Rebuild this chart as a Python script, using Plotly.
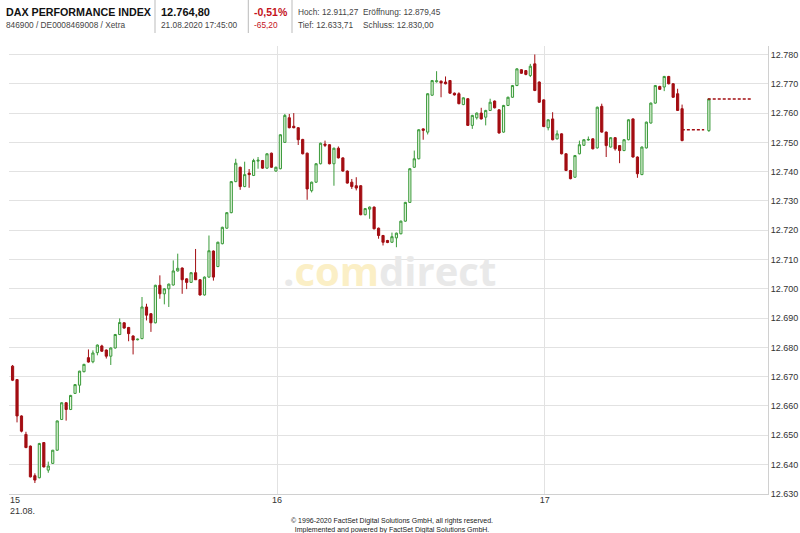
import plotly.graph_objects as go

# DAX intraday 21.08.2020, one-minute candles from 15:00 (x = minutes after 15:00)
minutes = list(range(151)) + [156]

opens = [12673.6, 12669.0, 12656.6, 12650.3, 12646.3, 12636.2, 12635.5, 12647.5, 12638.1, 12640.4,
         12644.9, 12655.4, 12661.1, 12658.8, 12664.3, 12667.1, 12671.7, 12676.5, 12675.1, 12678.2,
         12680.5, 12679.1, 12677.0, 12679.8, 12684.4, 12688.4, 12686.8, 12683.9, 12682.6, 12683.0,
         12693.8, 12691.5, 12688.4, 12701.2, 12698.3, 12700.0, 12701.3, 12706.1, 12707.1, 12703.4,
         12702.2, 12705.5, 12703.1, 12697.9, 12704.0, 12712.9, 12707.6, 12715.4, 12720.7, 12726.0,
         12736.6, 12741.5, 12734.9, 12739.5, 12738.7, 12743.6, 12743.8, 12741.2, 12746.3, 12740.2,
         12741.0, 12750.0, 12758.4, 12755.5, 12755.0, 12751.0, 12746.3, 12733.5, 12736.4, 12742.7,
         12749.4, 12749.2, 12742.7, 12748.0, 12744.7, 12740.2, 12736.4, 12735.2, 12735.2, 12725.3,
         12727.2, 12727.9, 12720.7, 12718.2, 12716.5, 12715.9, 12717.4, 12718.8, 12723.1, 12729.5,
         12741.5, 12744.4, 12754.6, 12753.5, 12766.1, 12770.7, 12770.9, 12770.6, 12771.1, 12766.8,
         12766.6, 12762.9, 12764.9, 12755.8, 12758.4, 12760.0, 12758.6, 12760.9, 12764.1, 12761.1,
         12753.5, 12762.6, 12765.4, 12769.4, 12774.8, 12774.5, 12772.8, 12776.8, 12770.6, 12764.5,
         12755.0, 12758.0, 12751.2, 12752.9, 12746.1, 12740.4, 12738.1, 12746.1, 12749.0, 12750.8,
         12751.2, 12748.1, 12762.3, 12753.5, 12748.4, 12751.6, 12748.9, 12747.2, 12750.9, 12758.0,
         12745.0, 12739.0, 12748.1, 12756.6, 12763.4, 12769.1, 12768.9, 12772.5, 12770.0, 12766.6,
         12761.5, 12754.0]

highs = [12674.0, 12669.2, 12656.8, 12651.2, 12646.5, 12637.0, 12647.4, 12647.7, 12641.0, 12645.0,
         12655.0, 12661.3, 12661.3, 12663.8, 12667.5, 12672.0, 12674.4, 12679.3, 12679.0, 12681.0,
         12680.9, 12679.3, 12680.0, 12684.6, 12689.9, 12688.6, 12687.0, 12684.1, 12683.0, 12697.2,
         12694.9, 12691.7, 12701.4, 12704.6, 12700.2, 12701.8, 12709.7, 12712.0, 12707.3, 12703.6,
         12705.7, 12713.6, 12703.3, 12704.2, 12718.2, 12713.1, 12716.1, 12721.2, 12726.2, 12736.8,
         12744.4, 12741.7, 12743.4, 12740.9, 12744.4, 12745.0, 12744.0, 12746.3, 12746.5, 12741.7,
         12752.8, 12759.7, 12759.7, 12760.0, 12755.2, 12751.2, 12746.5, 12736.6, 12742.9, 12749.9,
         12750.6, 12749.4, 12748.2, 12748.6, 12744.9, 12740.4, 12737.5, 12738.1, 12735.4, 12727.6,
         12728.1, 12728.1, 12720.9, 12718.4, 12716.7, 12719.2, 12719.2, 12723.3, 12729.7, 12741.2,
         12747.2, 12754.5, 12754.8, 12766.8, 12771.3, 12774.3, 12771.1, 12772.5, 12771.3, 12767.0,
         12767.1, 12765.4, 12765.1, 12759.4, 12760.2, 12761.8, 12761.1, 12764.9, 12764.3, 12761.3,
         12762.8, 12765.6, 12769.6, 12775.3, 12775.0, 12774.7, 12776.8, 12780.0, 12770.8, 12764.7,
         12757.9, 12760.3, 12754.1, 12753.1, 12746.3, 12740.6, 12745.7, 12750.6, 12751.1, 12752.0,
         12751.4, 12762.2, 12763.2, 12753.7, 12751.8, 12751.8, 12749.1, 12751.1, 12757.9, 12758.2,
         12745.2, 12748.6, 12757.1, 12763.6, 12769.6, 12769.3, 12772.7, 12772.7, 12770.2, 12768.3,
         12762.9, 12765.0]

lows = [12668.5, 12654.4, 12651.0, 12645.6, 12635.6, 12633.7, 12635.3, 12639.0, 12637.2, 12640.2,
        12644.7, 12655.2, 12655.0, 12658.6, 12664.1, 12664.5, 12671.5, 12674.8, 12674.6, 12677.3,
        12678.5, 12676.2, 12674.0, 12679.6, 12684.2, 12686.4, 12682.1, 12677.6, 12682.4, 12682.8,
        12689.2, 12685.3, 12688.2, 12696.6, 12694.7, 12693.8, 12701.1, 12705.9, 12698.3, 12699.9,
        12702.0, 12703.0, 12697.7, 12697.7, 12703.8, 12702.8, 12707.4, 12715.2, 12720.5, 12725.8,
        12736.4, 12733.8, 12734.7, 12734.5, 12738.5, 12741.0, 12741.0, 12741.0, 12741.3, 12740.0,
        12740.8, 12749.8, 12754.8, 12754.8, 12749.1, 12745.9, 12730.4, 12732.9, 12736.2, 12742.5,
        12748.4, 12742.5, 12735.2, 12744.5, 12740.0, 12735.9, 12734.1, 12733.6, 12725.1, 12725.1,
        12723.9, 12720.3, 12717.1, 12714.8, 12715.6, 12715.7, 12714.2, 12718.6, 12722.9, 12729.3,
        12741.3, 12744.2, 12750.9, 12752.7, 12765.9, 12770.4, 12765.4, 12769.8, 12766.6, 12766.0,
        12763.0, 12762.7, 12755.6, 12754.6, 12757.8, 12757.8, 12755.8, 12760.7, 12761.6, 12753.0,
        12753.3, 12762.4, 12765.2, 12769.2, 12773.4, 12772.9, 12772.3, 12767.5, 12763.5, 12755.2,
        12754.1, 12750.7, 12751.0, 12745.9, 12740.2, 12737.4, 12737.9, 12745.9, 12748.8, 12750.6,
        12747.6, 12747.9, 12753.3, 12745.0, 12748.2, 12747.2, 12742.9, 12747.0, 12750.7, 12744.8,
        12737.9, 12738.8, 12747.9, 12756.4, 12763.2, 12767.9, 12767.5, 12769.8, 12765.2, 12760.7,
        12750.4, 12753.6]

closes = [12668.8, 12656.6, 12651.4, 12645.8, 12635.8, 12634.7, 12647.2, 12639.2, 12639.5, 12644.9,
          12654.9, 12661.1, 12658.8, 12663.6, 12667.3, 12671.9, 12674.2, 12675.0, 12678.1, 12680.8,
          12678.7, 12677.0, 12679.8, 12684.4, 12688.5, 12686.6, 12684.7, 12682.5, 12682.8, 12693.8,
          12691.0, 12688.4, 12701.2, 12698.3, 12700.0, 12701.6, 12706.1, 12707.0, 12703.1, 12702.2,
          12705.5, 12703.1, 12697.9, 12704.0, 12713.0, 12704.0, 12715.9, 12721.0, 12726.0, 12736.6,
          12742.9, 12734.9, 12739.0, 12739.0, 12743.8, 12743.9, 12741.2, 12746.1, 12741.5, 12741.5,
          12752.6, 12759.2, 12755.0, 12755.0, 12750.9, 12746.1, 12734.1, 12736.4, 12742.7, 12749.7,
          12749.0, 12742.7, 12748.0, 12744.7, 12740.2, 12736.1, 12734.9, 12734.4, 12725.3, 12727.4,
          12727.9, 12720.5, 12718.2, 12715.9, 12715.8, 12717.8, 12719.0, 12723.1, 12729.5, 12741.0,
          12744.4, 12754.3, 12754.1, 12766.6, 12771.1, 12771.0, 12770.3, 12770.0, 12766.8, 12766.2,
          12763.2, 12765.2, 12755.8, 12759.2, 12760.0, 12758.0, 12760.9, 12763.7, 12761.8, 12753.2,
          12762.6, 12765.4, 12769.4, 12775.1, 12773.6, 12773.2, 12776.0, 12767.7, 12763.7, 12755.4,
          12757.7, 12750.9, 12752.9, 12746.1, 12740.4, 12737.6, 12745.5, 12749.2, 12750.9, 12751.0,
          12747.8, 12762.0, 12753.5, 12748.9, 12751.6, 12747.8, 12747.2, 12750.9, 12757.7, 12745.0,
          12739.3, 12748.4, 12756.9, 12763.4, 12769.4, 12768.1, 12772.5, 12770.0, 12765.4, 12760.9,
          12750.6, 12764.8]

# dashed lines: waiting for the closing auction, then last price
wait_x = [150.7, 155.7]
wait_y = [12754.3, 12754.3]
last_x = [156.5, 166.5]
last_y = [12764.8, 12764.8]

y_ticks = list(range(12630, 12790, 10))
y_labels = [f"{v:,}".replace(",", ".") for v in y_ticks]
x_ticks = [0, 60, 120]
x_labels = ["", "16", "17"]

RED = "#a30d12"
GREEN = "#3a9a3a"
FONT = "Liberation Sans, Arial, sans-serif"

# plot area in pixels
L, R, T, B = 9, 32, 46, 39
W, H = 800, 533
PW, PH = W - L - R, H - T - B


def px(x):
    return (x - L) / PW


def py(y):
    return (H - B - y) / PH


fig = go.Figure()

fig.add_trace(go.Candlestick(
    x=[m + 0.75 for m in minutes], open=opens, high=highs, low=lows, close=closes,
    increasing=dict(line=dict(color=GREEN, width=1), fillcolor="#e6f5e0"),
    decreasing=dict(line=dict(color=RED, width=1), fillcolor=RED),
    whiskerwidth=0, showlegend=False, hoverinfo="skip"
))
fig.add_trace(go.Scatter(x=wait_x, y=wait_y, mode="lines",
                         line=dict(color=RED, width=1.5, dash="3px,2px"),
                         showlegend=False, hoverinfo="skip"))
fig.add_trace(go.Scatter(x=last_x, y=last_y, mode="lines",
                         line=dict(color=RED, width=1.5, dash="3px,2px"),
                         showlegend=False, hoverinfo="skip"))

fig.update_layout(
    width=W, height=H,
    margin=dict(l=L, r=R, t=T, b=B),
    paper_bgcolor="white", plot_bgcolor="white",
    font=dict(family=FONT, size=9, color="#333333"),
    showlegend=False,
    xaxis=dict(range=[-0.05, 170], tickvals=x_ticks, ticktext=x_labels, automargin=False,
               showgrid=True, gridcolor="#e2e2e2", gridwidth=1,
               showline=True, linecolor="#d0d0d0", zeroline=False,
               ticks="", rangeslider=dict(visible=False), ticklabelstandoff=-3,
               tickfont=dict(size=9, color="#333333")),
    yaxis=dict(range=[12629.95, 12782.9], side="right", tickvals=y_ticks, ticktext=y_labels,
               automargin=False, showgrid=True, gridcolor="#e2e2e2", gridwidth=1,
               showline=True, linecolor="#d0d0d0", zeroline=False, ticks="",
               tickfont=dict(size=9, color="#333333")),
)

ann = [
    # header
    dict(x=px(4), y=py(11.7), text="<b>DAX PERFORMANCE INDEX</b>", font=dict(size=10.7, color="#111111")),
    dict(x=px(4), y=py(24.5), text="846900 / DE0008469008 / Xetra", font=dict(size=8.3, color="#444444")),
    dict(x=px(159), y=py(11.7), text="<b>12.764,80</b>", font=dict(size=11, color="#111111")),
    dict(x=px(159), y=py(24.5), text="21.08.2020 17:45:00", font=dict(size=8.3, color="#444444")),
    dict(x=px(251.5), y=py(11.7), text="<b>-0,51%</b>", font=dict(size=10.5, color="#c4121b")),
    dict(x=px(251.5), y=py(24.5), text="-65,20", font=dict(size=8.3, color="#c4121b")),
    dict(x=px(296), y=py(12.5), text="Hoch: 12.911,27", font=dict(size=8.3, color="#444444")),
    dict(x=px(361), y=py(12.5), text="Eröffnung: 12.879,45", font=dict(size=8.3, color="#444444")),
    dict(x=px(296), y=py(24.5), text="Tief: 12.633,71", font=dict(size=8.3, color="#444444")),
    dict(x=px(361), y=py(24.5), text="Schluss: 12.830,00", font=dict(size=8.3, color="#444444")),
    # first x label with date
    dict(x=px(8), y=py(499.5), text="15", font=dict(size=9, color="#333333")),
    dict(x=px(8), y=py(511), text="21.08.", font=dict(size=9, color="#333333")),
]
for a in ann:
    a.update(xref="paper", yref="paper", xanchor="left", yanchor="middle", showarrow=False)
    fig.add_annotation(**a)

# watermark
fig.add_annotation(
    x=px(389.5), y=py(270), xref="paper", yref="paper", showarrow=False,
    xanchor="center", yanchor="middle",
    text="<b><span style='color:#e9e9e9'>.</span><span style='color:#fbefc6'>com</span>"
         "<span style='color:#e9e9e9'>direct</span></b>",
    font=dict(family="Open Sans, Liberation Sans, sans-serif", size=40)
)

# copyright
fig.add_annotation(
    x=px(392), y=py(525.5), xref="paper", yref="paper", showarrow=False,
    xanchor="center", yanchor="middle",
    text="© 1996-2020 FactSet Digital Solutions GmbH, all rights reserved.<br>"
         "Implemented and powered by FactSet Digital Solutions GmbH.",
    font=dict(size=7, color="#222222"), align="center"
)

# header separators
for sx in [155, 248.3, 292]:
    fig.add_shape(type="line", xref="paper", yref="paper", x0=px(sx), x1=px(sx),
                  y0=py(0), y1=py(33), line=dict(color="#bbbbbb", width=1))

# page has default body margin; remove it so the figure fills the window
fig.write_html("out.html", config={"displayModeBar": False},
               post_script="document.body.style.margin='0';")
